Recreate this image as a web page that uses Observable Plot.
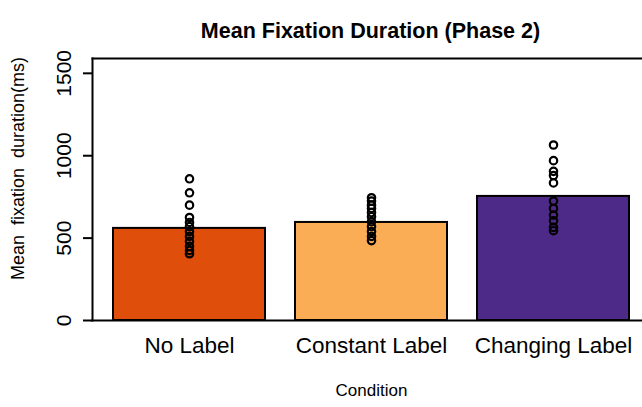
<!DOCTYPE html>
<html>
<head>
<meta charset="utf-8">
<script src="https://cdn.jsdelivr.net/npm/d3@7"></script>
<script src="https://cdn.jsdelivr.net/npm/@observablehq/plot@0.6"></script>
<style>
  html, body { margin: 0; padding: 0; background: #fff; }
  svg { display: block; font-family: "Liberation Sans", Arial, sans-serif; }
</style>
</head>
<body>
<div id="chart"></div>
<script>
const title = "Mean Fixation Duration (Phase 2)";
const xTitle = "Condition";
const yTitle = "Mean  fixation  duration(ms)";
const categories = ["No Label", "Constant Label", "Changing Label"];
const means = [559, 595, 753];
const colors = ["#DF4E0B", "#FBAD56", "#4D2A87"];
const yTicks = [0, 500, 1000, 1500];
const yMax = 1590;
const noLabelPts = [860, 775, 700, 625, 595, 570, 540, 510, 480, 450, 425, 405];
const constantPts = [745, 725, 700, 680, 655, 630, 600, 570, 540, 510, 485];
const changingPts = [1065, 970, 905, 880, 835, 725, 680, 640, 605, 565, 545];

const bars = categories.map((c, i) => ({cond: c, mean: means[i], color: colors[i]}));
const points = [
  ...noLabelPts.map(v => ({cond: categories[0], v})),
  ...constantPts.map(v => ({cond: categories[1], v})),
  ...changingPts.map(v => ({cond: categories[2], v}))
];

const font = "Liberation Sans, Arial, sans-serif";
const chart = Plot.plot({
  width: 642,
  height: 407,
  marginTop: 58,
  marginBottom: 87,
  marginLeft: 92,
  marginRight: 0,
  style: {fontFamily: font, background: "#fff", color: "#000"},
  x: {type: "band", domain: categories, range: [92, 649], paddingInner: 1/6, paddingOuter: 0.1133, axis: null},
  y: {domain: [0, yMax], axis: null},
  marks: [
    Plot.barY(bars, {x: "cond", y: "mean", fill: "color", stroke: "#000", strokeWidth: 2}),
    Plot.dot(points, {x: "cond", y: "v", r: 3.7, stroke: "#000", strokeWidth: 2.2, fill: "none"}),
    Plot.frame({anchor: "left", stroke: "#000", strokeWidth: 2}),
    Plot.frame({anchor: "top", stroke: "#000", strokeWidth: 2}),
    Plot.frame({anchor: "bottom", stroke: "#000", strokeWidth: 2}),
    Plot.axisY({ticks: yTicks, tickSize: 9, tickFormat: () => "", stroke: "#000", strokeWidth: 2}),
    Plot.text(yTicks, {y: d => d, text: d => String(d), frameAnchor: "left", dx: -28, rotate: -90, fontSize: 21, fill: "#000", textAnchor: "middle"}),
    Plot.text(categories, {x: d => d, text: d => d, frameAnchor: "bottom", dy: 32, fontSize: 22.5, fill: "#000"}),
    Plot.text([xTitle], {frameAnchor: "bottom", dx: 4, dy: 75, fontSize: 17, fill: "#000"}),
    Plot.text([yTitle], {frameAnchor: "left", dx: -74, dy: -21, rotate: -90, fontSize: 18, fill: "#000", textAnchor: "middle"}),
    Plot.text([title], {frameAnchor: "top", dx: 3, dy: -36, fontSize: 21.5, fontWeight: "bold", fill: "#000"})
  ]
});
document.getElementById("chart").appendChild(chart);
</script>
</body>
</html>
